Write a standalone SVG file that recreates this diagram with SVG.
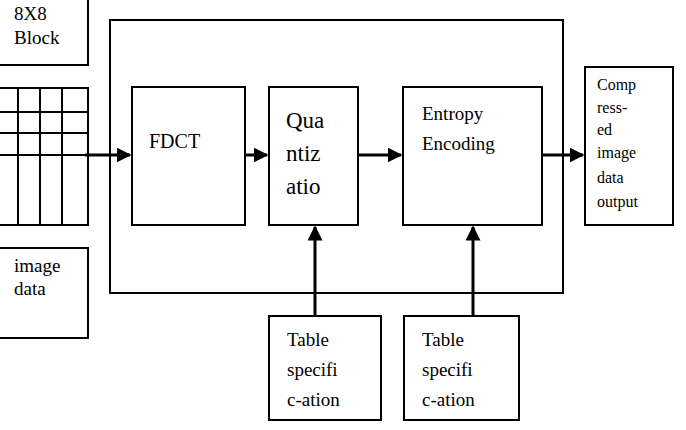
<svg xmlns="http://www.w3.org/2000/svg" width="686" height="430" viewBox="0 0 686 430">
<style>
.b{fill:#fff;stroke:#000;stroke-width:2}
.t{font-family:'Liberation Serif','DejaVu Serif',serif;font-size:19px;fill:#000}
.c{stroke:#000;stroke-width:3;fill:none}
.g{stroke:#000;stroke-width:2}
</style>
<defs><marker id="a" markerWidth="5" markerHeight="5" refX="4.5" refY="2.5" orient="auto" markerUnits="strokeWidth"><path d="M0,0L5,2.5L0,5z" fill="#000"/></marker></defs>
<rect width="686" height="430" fill="#fff"/>
<g id="outer"><rect class="b" x="110" y="20" width="453" height="273"/></g>
<g id="block8"><rect class="b" x="-5" y="-5" width="93" height="70"/><text class="t" x="14" y="20">8X8</text><text class="t" x="14" y="44">Block</text></g>
<g id="grid"><rect class="b" x="-5" y="88" width="93" height="137"/>
<path class="g" d="M18,88V225M40,88V225M62,88V225M0,112H88M0,133H88M0,155H88"/></g>
<g id="imagedata"><rect class="b" x="-5" y="248" width="93" height="90"/><text class="t" x="14" y="272">image</text><text class="t" x="14" y="295">data</text></g>
<g id="fdct"><rect class="b" x="132" y="87" width="113" height="138"/><text class="t" x="149" y="148" style="font-size:20px">FDCT</text></g>
<g id="quant"><rect class="b" x="269" y="87" width="89" height="138"/><text class="t" x="286" y="128" style="font-size:23px">Qua</text><text class="t" x="286" y="161" style="font-size:23px">ntiz</text><text class="t" x="286" y="194" style="font-size:23px">atio</text></g>
<g id="entropy"><rect class="b" x="403" y="87" width="139" height="138"/><text class="t" x="422" y="120">Entropy</text><text class="t" x="422" y="150">Encoding</text></g>
<g id="output"><rect class="b" x="585" y="67" width="88" height="158"/>
<text class="t" x="597" y="90" style="font-size:16px">Comp</text><text class="t" x="597" y="113" style="font-size:16px">ress-</text><text class="t" x="597" y="135" style="font-size:16px">ed</text><text class="t" x="597" y="158" style="font-size:16px">image</text><text class="t" x="597" y="183" style="font-size:16px">data</text><text class="t" x="597" y="207" style="font-size:16px">output</text></g>
<g id="table1"><rect class="b" x="269" y="316" width="112" height="104"/><text class="t" x="287" y="346">Table</text><text class="t" x="287" y="376">specifi</text><text class="t" x="287" y="406">c-ation</text></g>
<g id="table2"><rect class="b" x="404" y="316" width="115" height="104"/><text class="t" x="422" y="346">Table</text><text class="t" x="422" y="376">specifi</text><text class="t" x="422" y="406">c-ation</text></g>
<g id="connectors">
<path class="c" d="M85,155H130" marker-end="url(#a)"/>
<path class="c" d="M245,155H267" marker-end="url(#a)"/>
<path class="c" d="M358,155H401" marker-end="url(#a)"/>
<path class="c" d="M542,155H583" marker-end="url(#a)"/>
<path class="c" d="M315,316V227" marker-end="url(#a)"/>
<path class="c" d="M473,316V227" marker-end="url(#a)"/>
</g>
</svg>
